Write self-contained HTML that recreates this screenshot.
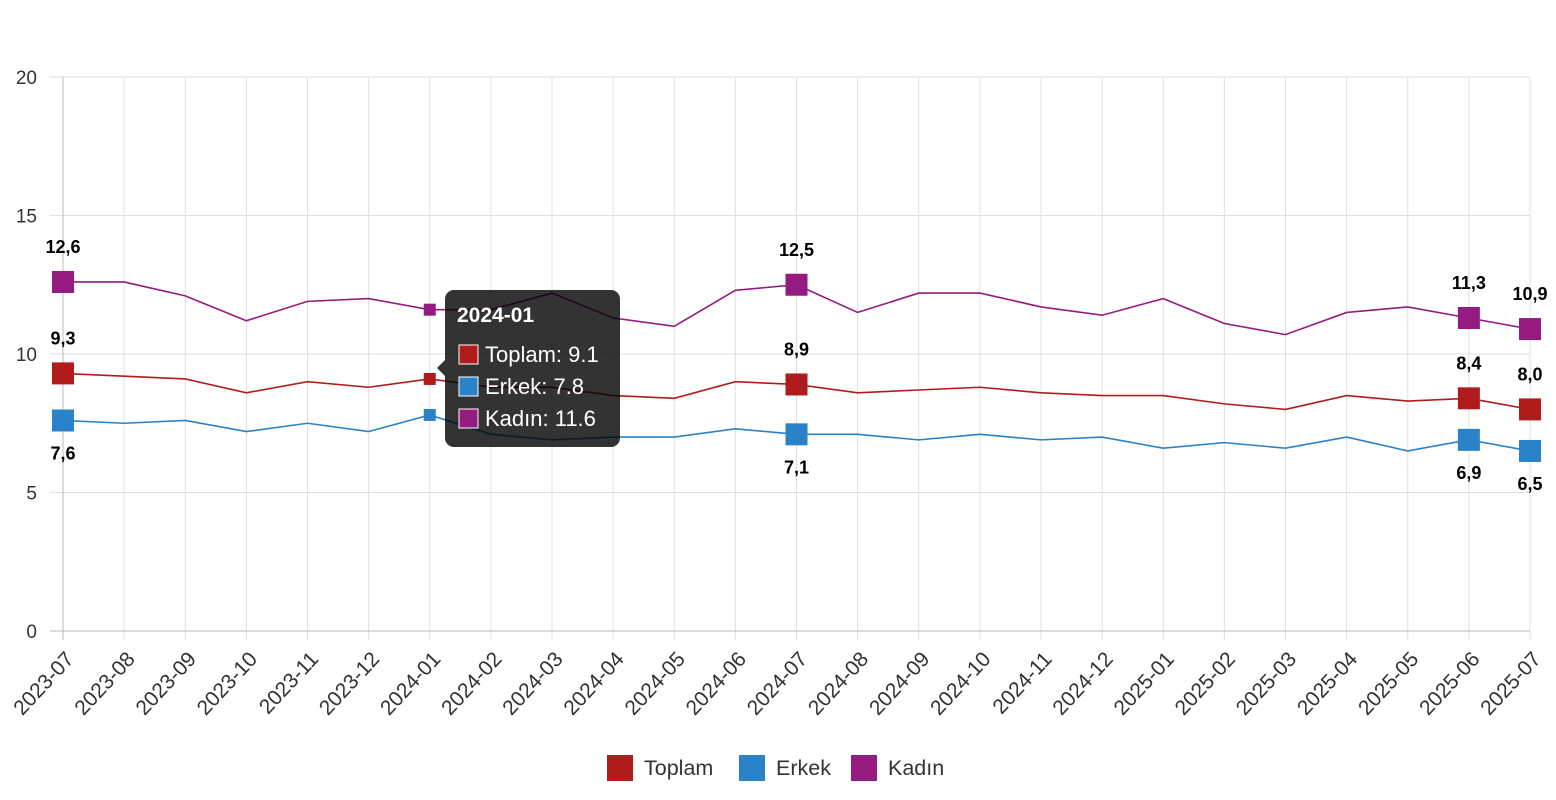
<!DOCTYPE html>
<html><head><meta charset="utf-8"><style>
body{margin:0;background:#fff;width:1556px;height:800px;overflow:hidden}
svg{display:block;font-family:"Liberation Sans",sans-serif}
</style></head><body>
<svg width="1556" height="800" id="c"></svg>
<script>
const s=document.getElementById('c');let h='';
const X=i=>63+i*61.125, Y=v=>631-v*27.7;
const labels=['2023-07','2023-08','2023-09','2023-10','2023-11','2023-12','2024-01','2024-02','2024-03','2024-04','2024-05','2024-06','2024-07','2024-08','2024-09','2024-10','2024-11','2024-12','2025-01','2025-02','2025-03','2025-04','2025-05','2025-06','2025-07'];
for(let v=0;v<=20;v+=5){h+=`<line x1="50" x2="1530" y1="${Y(v)}" y2="${Y(v)}" stroke="#e0e0e0"/><text x="37" y="${Y(v)+7}" text-anchor="end" font-size="19" fill="#333">${v}</text>`;}
labels.forEach((l,i)=>{h+=`<line x1="${X(i)}" x2="${X(i)}" y1="77" y2="640" stroke="#e0e0e0"/><text transform="translate(${X(i)+12},660) rotate(-47)" text-anchor="end" font-size="21" fill="#333">${l}</text>`;});
h+=`<line x1="63" x2="63" y1="77" y2="640" stroke="#bbb"/><line x1="50" x2="1530" y1="631" y2="631" stroke="#bbb"/>`;
const T=[9.3,9.2,9.1,8.6,9.0,8.8,9.1,8.8,8.8,8.5,8.4,9.0,8.9,8.6,8.7,8.8,8.6,8.5,8.5,8.2,8.0,8.5,8.3,8.4,8.0];
const E=[7.6,7.5,7.6,7.2,7.5,7.2,7.8,7.1,6.9,7.0,7.0,7.3,7.1,7.1,6.9,7.1,6.9,7.0,6.6,6.8,6.6,7.0,6.5,6.9,6.5];
const K=[12.6,12.6,12.1,11.2,11.9,12.0,11.6,11.6,12.2,11.3,11.0,12.3,12.5,11.5,12.2,12.2,11.7,11.4,12.0,11.1,10.7,11.5,11.7,11.3,10.9];
const ser=[[T,'#b01c1c'],[E,'#2a82c9'],[K,'#951b81']];
const big=[0,12,23,24];
ser.forEach(([d,c],si)=>{h+=`<polyline fill="none" stroke="${c}" stroke-width="1.6" points="${d.map((v,i)=>X(i)+','+Y(v)).join(' ')}"/>`;
 big.forEach(i=>{h+=`<rect x="${X(i)-11}" y="${Y(d[i])-11}" width="22" height="22" fill="${c}"/>`;
  const ly=si==1?Y(d[i])+39:Y(d[i])-29;
  h+=`<text x="${X(i)}" y="${ly}" text-anchor="middle" font-size="18" font-weight="bold" fill="#000">${d[i].toFixed(1).replace('.',',')}</text>`;});
 h+=`<rect x="${X(6)-6}" y="${Y(d[6])-6}" width="12" height="12" fill="${c}"/>`;});
h+=`<path d="M445,290 h166 a9,9 0 0 1 9,9 v139 a9,9 0 0 1 -9,9 h-157 a9,9 0 0 1 -9,-9 v-62 l-8,-8 l8,-8 v-61 a9,9 0 0 1 9,-9z" fill="rgba(0,0,0,0.8)"/>`;
h+=`<text x="457" y="322" font-size="21" font-weight="bold" fill="#fff">2024-01</text>`;
[['Toplam: 9.1','#b01c1c'],['Erkek: 7.8','#2a82c9'],['Kadın: 11.6','#951b81']].forEach((t,i)=>{const y=345+i*32;h+=`<rect x="459" y="${y}" width="19" height="19" fill="${t[1]}" stroke="#fff" stroke-width="1"/><text x="485" y="${y+17}" font-size="22" fill="#fff">${t[0]}</text>`;});
[['Toplam','#b01c1c',607],['Erkek','#2a82c9',739],['Kadın','#951b81',851]].forEach(t=>{h+=`<rect x="${t[2]}" y="755" width="26" height="26" fill="${t[1]}"/><text x="${t[2]+37}" y="775" font-size="21.5" fill="#333">${t[0]}</text>`;});
s.innerHTML=h;
</script>
</body></html>
